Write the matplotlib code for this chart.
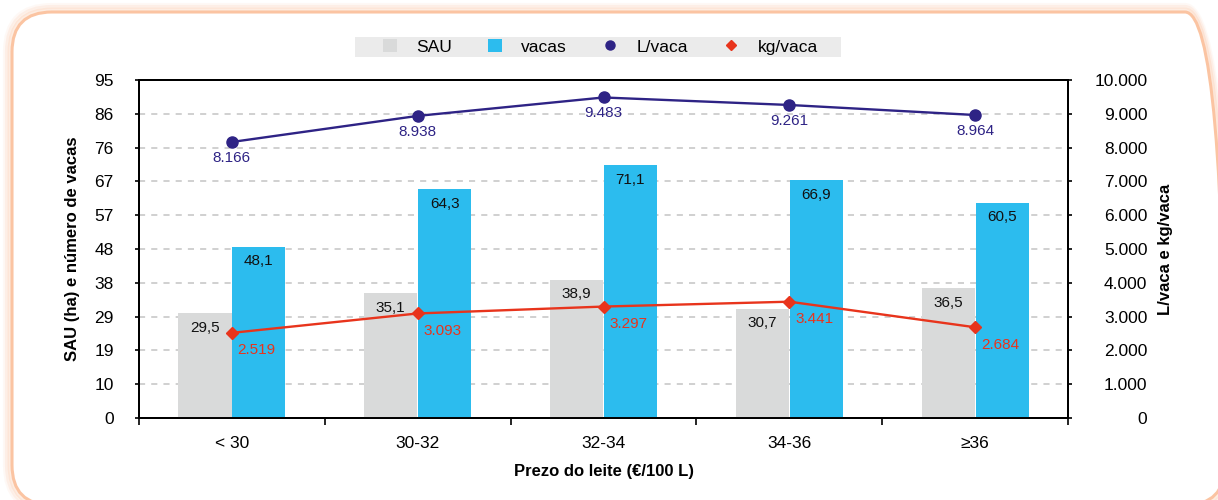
import matplotlib.pyplot as plt
from matplotlib.patches import FancyBboxPatch, Rectangle
from matplotlib.transforms import IdentityTransform
from matplotlib.lines import Line2D
from matplotlib.patches import Patch

plt.rcParams['font.family'] = ['Liberation Sans', 'DejaVu Sans']

# data
categories = ['< 30', '30-32', '32-34', '34-36', '≥36']
sau = [29.5, 35.1, 38.9, 30.7, 36.5]
vacas = [48.1, 64.3, 71.1, 66.9, 60.5]
l_vaca = [8166, 8938, 9483, 9261, 8964]
kg_vaca = [2519, 3093, 3297, 3441, 2684]
left_ticks = [0, 9.5, 19, 28.5, 38, 47.5, 57, 66.5, 76, 85.5, 95]
left_labels = ['0', '10', '19', '29', '38', '48', '57', '67', '76', '86', '95']
right_ticks = [0, 1000, 2000, 3000, 4000, 5000, 6000, 7000, 8000, 9000, 10000]

c_sau = '#D9DADA'
c_vacas = '#2CBCEE'
c_l = '#2E2385'
c_kg = '#E8341C'


def comma(v):
    return f'{v:.1f}'.replace('.', ',')


def thousands(v):
    return f'{v:,.0f}'.replace(',', '.')


fig = plt.figure(figsize=(12.18, 5), dpi=100)

# rounded frame with soft orange glow, drawn in pixel units
for grow, lw, a in [(7, 3, 0.10), (5, 3, 0.18), (2.5, 3, 0.3), (0, 2.2, 1.0)]:
    frame = FancyBboxPatch((12 - grow, -5 - grow), 1213 + 2 * grow, 493 + 2 * grow,
                           boxstyle='round,pad=0,rounding_size=%f' % (40 + grow),
                           transform=IdentityTransform(), facecolor='none',
                           edgecolor='#FBC4A2', linewidth=lw, alpha=a)
    fig.patches.append(frame)

ax = fig.add_axes([0.114, 0.164, 0.763, 0.676])
ax2 = ax.twinx()

x = list(range(len(categories)))
w = 0.287
off = 0.145
ax.bar([i - off for i in x], sau, width=w, color=c_sau, zorder=3)
ax.bar([i + off for i in x], vacas, width=w, color=c_vacas, zorder=3)

for i in x:
    ax.annotate(comma(sau[i]), (i - off, sau[i]), xytext=(0, -10.5), textcoords='offset points',
                ha='center', va='center', fontsize=11, color='#111111', zorder=4)
    ax.annotate(comma(vacas[i]), (i + off, vacas[i]), xytext=(0, -10.5), textcoords='offset points',
                ha='center', va='center', fontsize=11, color='#111111', zorder=4)

ax.set_xlim(-0.5, 4.5)
ax.set_ylim(0, 95)
ax.set_yticks(left_ticks)
ax.set_yticklabels(left_labels)
ax.yaxis.grid(True, color='#C4C4C4', linestyle=(0, (4, 4)), linewidth=1.1, zorder=0)
ax.set_axisbelow(True)
ax.set_xticks(x)
ax.set_xticklabels(categories)
ax.set_xticks([-0.5, 0.5, 1.5, 2.5, 3.5, 4.5], minor=True)
ax.tick_params(axis='x', which='major', length=0, pad=13, labelsize=12.5)
ax.tick_params(axis='x', which='minor', length=5, width=1.2, direction='out')
ax.tick_params(axis='y', length=3, width=1.2, labelsize=12.5, pad=15)
ax.set_ylabel('SAU (ha) e número de vacas', fontsize=12, fontweight='bold', labelpad=10)
ax.set_xlabel('Prezo do leite (€/100 L)', fontsize=12, fontweight='bold', labelpad=9)

ax2.plot(x, l_vaca, color=c_l, marker='o', markersize=8, linewidth=1.7, zorder=5)
ax2.plot(x, kg_vaca, color=c_kg, marker='D', markersize=6.5, linewidth=1.7, zorder=5)
for i in x:
    ax2.annotate(thousands(l_vaca[i]), (i, l_vaca[i]), xytext=(0, -11.5), textcoords='offset points',
                 ha='center', va='center', fontsize=11, color=c_l)
    ax2.annotate(thousands(kg_vaca[i]), (i, kg_vaca[i]), xytext=(18, -12.5), textcoords='offset points',
                 ha='center', va='center', fontsize=11, color=c_kg)
ax2.set_ylim(0, 10000)
ax2.set_yticks(right_ticks)
ax2.set_yticklabels([thousands(t) for t in right_ticks], ha='right')
ax2.tick_params(axis='y', length=3, width=1.2, labelsize=12.5, pad=54)
ax2.set_ylabel('L/vaca e kg/vaca', fontsize=12, fontweight='bold', labelpad=8)

for a in (ax, ax2):
    for s in a.spines.values():
        s.set_linewidth(1.4)
        s.set_color('black')

# legend with a flat grey band behind it
fig.patches.append(Rectangle((355 / 1218, 1 - 57 / 500), 486 / 1218, 20 / 500,
                             transform=fig.transFigure, facecolor='#EBEBEB', edgecolor='none'))
handles = [
    Patch(facecolor=c_sau, edgecolor='none', label='SAU'),
    Patch(facecolor=c_vacas, edgecolor='none', label='vacas'),
    Line2D([], [], color=c_l, marker='o', linestyle='none', markersize=6.5, label='L/vaca'),
    Line2D([], [], color=c_kg, marker='D', linestyle='none', markersize=5.5, label='kg/vaca'),
]
leg = fig.legend(handles=handles, loc='center left', bbox_to_anchor=(383 / 1218, 1 - 47 / 500), ncol=4,
                 fontsize=12.5, frameon=False, handlelength=0.8, handleheight=0.8, handletextpad=1.1,
                 columnspacing=2.1, borderpad=0, borderaxespad=0)

fig.savefig('out.png', dpi=100)
